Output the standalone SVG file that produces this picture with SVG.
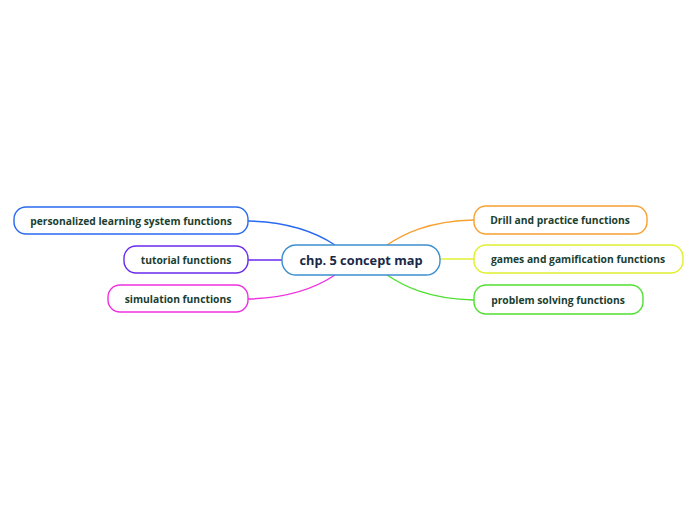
<svg xmlns="http://www.w3.org/2000/svg" width="696" height="520" viewBox="0 0 696 520">
<style>
.box{fill:#fff;stroke-width:1.4}
.t{font-family:"Open Sans","Noto Sans",sans-serif;font-weight:bold;font-size:10.3px;fill:#1b4030;text-anchor:middle;dominant-baseline:central}
.c{font-family:"Open Sans","Noto Sans",sans-serif;font-weight:bold;font-size:12.8px;fill:#1a2848;text-anchor:middle;dominant-baseline:central}
.ln{fill:none;stroke-width:1.4}
</style>
<rect width="696" height="520" fill="#fff"/>
<g id="connectors">
<path class="ln" stroke="#2a6af0" d="M248,221 C295,222 320,235 335,245"/>
<path class="ln" stroke="#6a2af0" d="M248,260 L282,260"/>
<path class="ln" stroke="#f030e0" d="M248,299 C295,298 320,285 335,275"/>
<path class="ln" stroke="#f8a030" d="M387,245 C402,235 427,221 474,220"/>
<path class="ln" stroke="#e0f030" d="M440,259 L474,259"/>
<path class="ln" stroke="#50e030" d="M387,275 C402,285 427,299 474,300"/>
</g>
<g id="center">
<rect class="box" x="282" y="245" width="158" height="30" rx="14" stroke="#3b8fd0"/>
<text class="c" x="361" y="260">chp. 5 concept map</text>
</g>
<g id="n-personalized">
<rect class="box" x="14" y="207" width="234" height="27" rx="12" stroke="#2a6af0"/>
<text class="t" x="131" y="220.5">personalized learning system functions</text>
</g>
<g id="n-tutorial">
<rect class="box" x="124" y="246" width="124" height="27" rx="12" stroke="#6a2af0"/>
<text class="t" x="186" y="259.5">tutorial functions</text>
</g>
<g id="n-simulation">
<rect class="box" x="108" y="285" width="140" height="27" rx="12" stroke="#f030e0"/>
<text class="t" x="178" y="298.5">simulation functions</text>
</g>
<g id="n-drill">
<rect class="box" x="474" y="206" width="173" height="28" rx="12" stroke="#f8a030"/>
<text class="t" x="560" y="220">Drill and practice functions</text>
</g>
<g id="n-games">
<rect class="box" x="474" y="245" width="209" height="28" rx="12" stroke="#e0f030"/>
<text class="t" x="578" y="259">games and gamification functions</text>
</g>
<g id="n-problem">
<rect class="box" x="474" y="285" width="169" height="29" rx="12" stroke="#50e030"/>
<text class="t" x="558" y="299.5">problem solving functions</text>
</g>
</svg>
